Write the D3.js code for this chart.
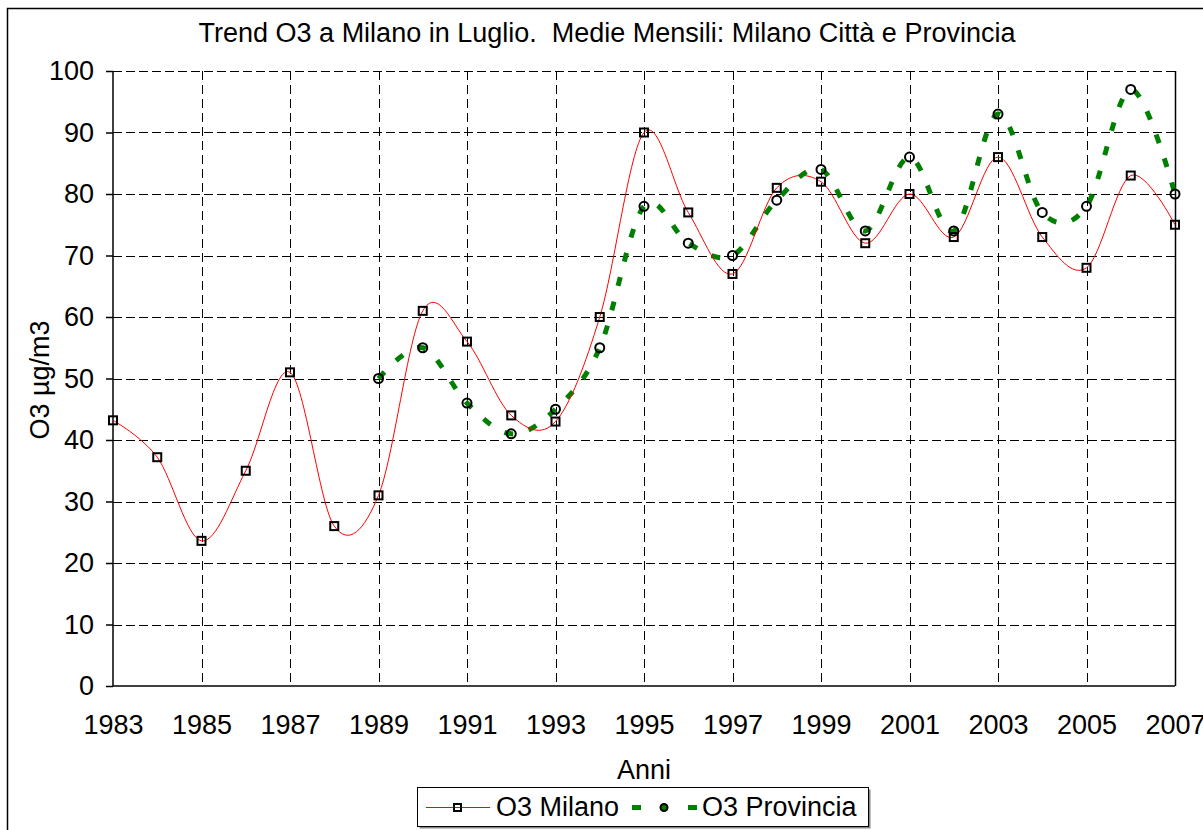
<!DOCTYPE html>
<html>
<head>
<meta charset="utf-8">
<script src="https://cdn.jsdelivr.net/npm/d3@7"></script>
<style>
  body { margin: 0; background: #fff; }
  svg text { font-family: Arial, "Liberation Sans", sans-serif; fill: #000; }
</style>
</head>
<body>
<div class="chart-container"></div>
<script>
/* Data
   ========================================================================== */
var milanoYears = [1983, 1984, 1985, 1986, 1987, 1988, 1989, 1990, 1991, 1992, 1993, 1994, 1995,
                   1996, 1997, 1998, 1999, 2000, 2001, 2002, 2003, 2004, 2005, 2006, 2007];
var milano = [43.2, 37.2, 23.6, 35, 51, 26, 31, 61, 56, 44, 43, 60, 90,
              77, 67, 81, 82, 72, 80, 73, 86, 73, 68, 83, 75];
var provinciaYears = [1989, 1990, 1991, 1992, 1993, 1994, 1995, 1996, 1997, 1998,
                      1999, 2000, 2001, 2002, 2003, 2004, 2005, 2006, 2007];
var provincia = [50, 55, 46, 41, 45, 55, 78, 72, 70, 79, 84, 74, 86, 74, 93, 77, 78, 97, 80];
var xTicks = [1983, 1985, 1987, 1989, 1991, 1993, 1995, 1997, 1999, 2001, 2003, 2005, 2007];
var yTicks = [0, 10, 20, 30, 40, 50, 60, 70, 80, 90, 100];

var seriesNames = ["O3 Milano", "O3 Provincia"];

/* Layout
   ========================================================================== */
var W = 1203, H = 830;
var margin = { top: 71, right: 28, bottom: 144, left: 113 },
    width = W - margin.left - margin.right,
    height = H - margin.top - margin.bottom;
var fs = "27px";

var x = d3.scaleLinear().domain([1983, 2007]).range([0, width]);
var y = d3.scaleLinear().domain([0, 100]).range([height, 0]);

var svg = d3.select('.chart-container').append("svg")
    .attr("width", W)
    .attr("height", H);

// chart area border
svg.append("rect")
    .attr("x", 7.5).attr("y", 8.5)
    .attr("width", W).attr("height", H)
    .attr("fill", "none").attr("stroke", "#000").attr("stroke-width", 1.5);

// title (keep the double space)
svg.append("text")
    .attr("x", 607).attr("y", 42)
    .attr("text-anchor", "middle")
    .style("font-size", "27px")
    .style("white-space", "pre")
    .attr("xml:space", "preserve")
    .text("Trend O3 a Milano in Luglio.  Medie Mensili: Milano Città e Provincia");

var g = svg.append("g")
    .attr("transform", "translate(" + margin.left + "," + margin.top + ")");

/* Grid
   ========================================================================== */
g.append("g").selectAll("line")
    .data(yTicks.filter(function(d) { return d > 0; }))
    .enter().append("line")
    .attr("x1", 0).attr("x2", width)
    .attr("y1", function(d) { return Math.round(y(d)) + 0.5; })
    .attr("y2", function(d) { return Math.round(y(d)) + 0.5; })
    .attr("stroke", "#000").attr("stroke-dasharray", "9,4");

g.append("g").selectAll("line")
    .data(xTicks.filter(function(d) { return d > 1983 && d < 2007; }))
    .enter().append("line")
    .attr("x1", function(d) { return Math.round(x(d)) + 0.5; })
    .attr("x2", function(d) { return Math.round(x(d)) + 0.5; })
    .attr("y1", 0).attr("y2", height)
    .attr("stroke", "#000").attr("stroke-dasharray", "9,5");

// right side of plot area
g.append("line")
    .attr("x1", width + 0.5).attr("x2", width + 0.5)
    .attr("y1", 0).attr("y2", height)
    .attr("stroke", "#000").attr("stroke-width", 1.5);

/* Axes
   ========================================================================== */
var yAxis = g.append("g")
    .call(d3.axisLeft(y).tickValues(yTicks).tickSize(7).tickPadding(12));
var xAxis = g.append("g")
    .attr("transform", "translate(0," + height + ")")
    .call(d3.axisBottom(x).tickValues(xTicks).tickSize(0).tickPadding(29).tickFormat(d3.format("d")));

[yAxis, xAxis].forEach(function(a) {
    a.select(".domain").attr("stroke", "#000").attr("stroke-width", 1.5);
    a.selectAll(".tick line").attr("stroke", "#000").attr("stroke-width", 1.5);
    a.selectAll("text").style("font-size", fs).attr("fill", "#000");
});
yAxis.select(".domain").attr("d", "M0,0V" + height);
xAxis.select(".domain").attr("d", "M0,0H" + width);

// axis titles
svg.append("text")
    .attr("transform", "translate(49,380) rotate(-90)")
    .attr("text-anchor", "middle")
    .style("font-size", fs)
    .text("O3 µg/m3");

svg.append("text")
    .attr("x", 644).attr("y", 779)
    .attr("text-anchor", "middle")
    .style("font-size", fs)
    .text("Anni");

/* Series
   ========================================================================== */
var milanoData = milanoYears.map(function(d, i) { return { year: d, value: milano[i] }; });
var provData = provinciaYears.map(function(d, i) { return { year: d, value: provincia[i] }; });

var line = d3.line()
    .x(function(d) { return x(d.year); })
    .y(function(d) { return y(d.value); })
    .curve(d3.curveCardinal.tension(0));

g.append("path")
    .datum(provData)
    .attr("d", line)
    .attr("fill", "none")
    .attr("stroke", "#008000")
    .attr("stroke-width", 5)
    .attr("stroke-dasharray", "9,16");

g.append("path")
    .datum(milanoData)
    .attr("d", line)
    .attr("fill", "none")
    .attr("stroke", "#ff0000")
    .attr("stroke-width", 1);

g.selectAll(".prov-dot")
    .data(provData)
    .enter().append("circle")
    .attr("class", "prov-dot")
    .attr("cx", function(d) { return x(d.year); })
    .attr("cy", function(d) { return y(d.value); })
    .attr("r", 4.5)
    .attr("fill", "none")
    .attr("stroke", "#000")
    .attr("stroke-width", 2);

g.selectAll(".mil-sq")
    .data(milanoData)
    .enter().append("rect")
    .attr("class", "mil-sq")
    .attr("x", function(d) { return x(d.year) - 4; })
    .attr("y", function(d) { return y(d.value) - 4; })
    .attr("width", 8).attr("height", 8)
    .attr("fill", "none")
    .attr("stroke", "#000")
    .attr("stroke-width", 2);

/* Legend
   ========================================================================== */
var legend = svg.append("g");
legend.append("rect")
    .attr("x", 419.5).attr("y", 789.5).attr("width", 451).attr("height", 39)
    .attr("fill", "#888");
legend.append("rect")
    .attr("x", 417.5).attr("y", 787.5).attr("width", 451).attr("height", 39)
    .attr("fill", "#fff").attr("stroke", "#000");

legend.append("line")
    .attr("x1", 426).attr("x2", 490).attr("y1", 807.5).attr("y2", 807.5)
    .attr("stroke", "#ff0000");
legend.append("rect")
    .attr("x", 454).attr("y", 804).attr("width", 7).attr("height", 7)
    .attr("fill", "none").attr("stroke", "#000").attr("stroke-width", 2);
legend.append("text")
    .attr("x", 496).attr("y", 816)
    .style("font-size", fs)
    .text(seriesNames[0]);

legend.append("line")
    .attr("x1", 632).attr("x2", 697).attr("y1", 807.5).attr("y2", 807.5)
    .attr("stroke", "#008000").attr("stroke-width", 5)
    .attr("stroke-dasharray", "9,47");
legend.append("circle")
    .attr("cx", 664).attr("cy", 807.5).attr("r", 3.5)
    .attr("fill", "#008000").attr("stroke", "#000").attr("stroke-width", 2);
legend.append("text")
    .attr("x", 702).attr("y", 816)
    .style("font-size", fs)
    .text(seriesNames[1]);
</script>
</body>
</html>
